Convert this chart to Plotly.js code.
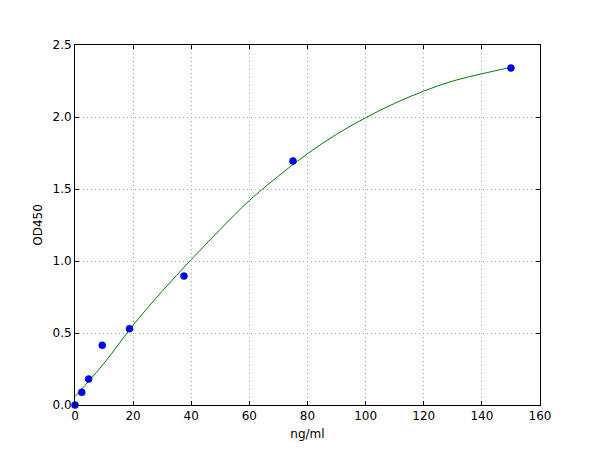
<!DOCTYPE html>
<html>
<head>
<meta charset="utf-8">
<script src="https://cdn.plot.ly/plotly-3.0.1.min.js"></script>
<style>
  html, body { margin: 0; padding: 0; background: #fff; }
  #plot { width: 600px; height: 450px; }
</style>
</head>
<body>
<div id="plot"></div>
<script>
// standard concentrations and measured OD
var conc = [0, 2.34, 4.69, 9.375, 18.75, 37.5, 75, 150];
var od = [0.0, 0.088, 0.18, 0.415, 0.53, 0.895, 1.695, 2.34];

// fitted curve
var fitX = [0, 10, 20, 30, 40, 50, 60, 70, 80, 90, 100, 110, 120, 130, 140, 150];
var fitY = [0.058, 0.29, 0.555, 0.79, 1.01, 1.22, 1.42, 1.59, 1.745, 1.88, 1.995, 2.095, 2.18, 2.25, 2.30, 2.345];

var xTicks = [0, 20, 40, 60, 80, 100, 120, 140, 160];
var yTicks = [0.0, 0.5, 1.0, 1.5, 2.0, 2.5];
var yTickText = ["0.0", "0.5", "1.0", "1.5", "2.0", "2.5"];

var fit = {
  x: fitX,
  y: fitY,
  mode: "lines",
  line: { color: "#008000", width: 1, shape: "spline" },
  hoverinfo: "skip"
};

var points = {
  x: conc,
  y: od,
  mode: "markers",
  marker: { color: "#0000ff", size: 7, line: { color: "#000080", width: 0.5 } },
  cliponaxis: false
};

var axisBase = {
  showline: true,
  linecolor: "#000",
  linewidth: 1,
  mirror: "ticks",
  ticks: "inside",
  ticklen: 4,
  tickcolor: "#000",
  showgrid: true,
  gridcolor: "#a8a8a8",
  griddash: "1px,3px",
  gridwidth: 1,
  zeroline: false,
  tickfont: { family: "DejaVu Sans", size: 12, color: "#000" }
};

var layout = {
  width: 600,
  height: 450,
  margin: { l: 75, r: 60, t: 45, b: 45 },
  paper_bgcolor: "#fff",
  plot_bgcolor: "#fff",
  showlegend: false,
  xaxis: Object.assign({}, axisBase, {
    range: [0, 160],
    tickvals: xTicks,
    title: { text: "ng/ml", font: { family: "DejaVu Sans", size: 12, color: "#000" }, standoff: 7 }
  }),
  yaxis: Object.assign({}, axisBase, {
    range: [0, 2.5],
    tickvals: yTicks,
    ticktext: yTickText,
    title: { text: "OD450", font: { family: "DejaVu Sans", size: 12, color: "#000" }, standoff: 7 }
  })
};

Plotly.newPlot("plot", [fit, points], layout, { displayModeBar: false, staticPlot: true });
</script>
</body>
</html>
